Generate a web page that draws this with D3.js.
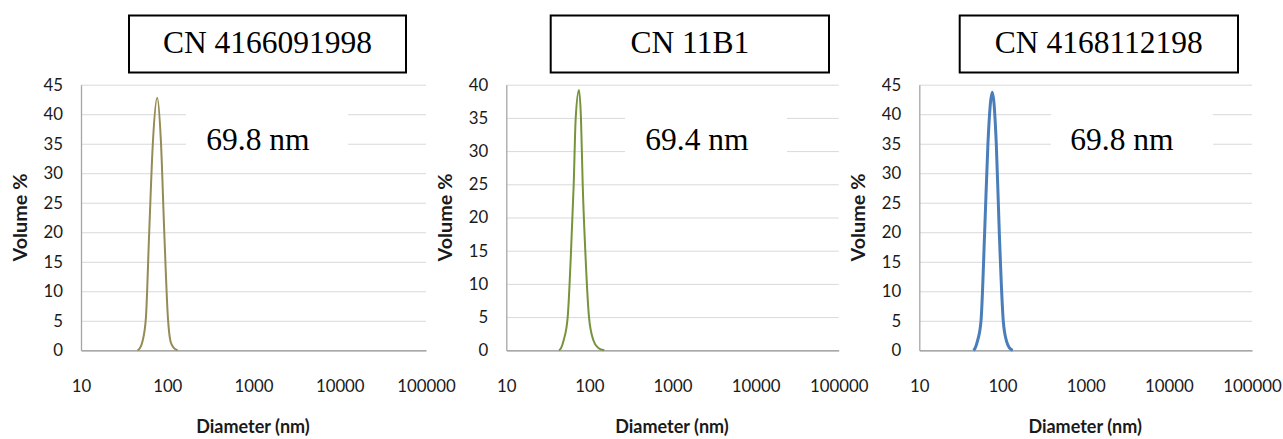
<!DOCTYPE html>
<html>
<head>
<meta charset="utf-8">
<script src="https://cdn.jsdelivr.net/npm/d3@7"></script>
<style>
  html, body { margin: 0; padding: 0; background: #fff; }
  svg { display: block; }
</style>
</head>
<body>
<svg id="chart" width="1283" height="439"></svg>
<script>
// ---------- data ----------
const titles = ["CN 4166091998", "CN 11B1", "CN 4168112198"];
const peakLabels = ["69.8 nm", "69.4 nm", "69.8 nm"];
const yMaxValues = [45, 40, 45];
const xTickValues = [10, 100, 1000, 10000, 100000];
const xLabel = "Diameter (nm)";
const yLabel = "Volume %";

// diameter (nm) and volume (%)
const diameters1 = [45.2, 47.9, 51.6, 56.5, 61.8, 68.2, 76.5, 84.5, 92.3, 101.9, 109.2, 119.0, 131.8];
const volumes1   = [0,    0.3,  1.5,  5.4,  20.1, 35.3, 42.8, 35.3, 20.1, 5.4,   1.5,   0.4,   0];
const diameters2 = [43.1, 45.5, 49.1, 54.8, 60.1, 64.7, 68.4, 74.9, 79.2, 83.1, 89.3, 98.9, 111.4, 126.9, 151.1];
const volumes2   = [0,    0.3,  1.55, 5.0,  14.9, 24.9, 34.9, 39.2, 34.9, 24.9, 14.9, 5.0,  1.55,  0.4,   0];
const diameters3 = [44.6, 46.7, 49.8, 55.2, 61.1, 66.9, 75.4, 84.2, 91.5, 102.2, 112.3, 121.4, 132.7];
const volumes3   = [0,    0.3,  1.46, 5.0,  20.1, 35.1, 43.7, 35.1, 20.1, 5.0,   1.46,  0.4,   0];

const seriesX = [diameters1, diameters2, diameters3];
const seriesY = [volumes1, volumes2, volumes3];

// ---------- layout / style ----------
const layout = [
  { left: 81,    right: 426,  box: [129, 406],   labelBox: [186, 348],   labelX: 258,  yTitleX: 19.5 },
  { left: 506.3, right: 838.7, box: [550.7, 829], labelBox: [625, 787],  labelX: 697,  yTitleX: 444.5 },
  { left: 919.3, right: 1252, box: [959.7, 1238], labelBox: [1051, 1213], labelX: 1122, yTitleX: 857.5 }
];
const lineColors = ["#958b55", "#77933c", "#4a7ebb"];
const lineWidths = [2, 2, 3];
const plotTop = 84.7, plotBottom = 350.3;

const svg = d3.select("#chart");

layout.forEach((L, i) => {
  const g = svg.append("g");
  const x = d3.scaleLog().domain([10, 100000]).range([L.left, L.right]);
  const y = d3.scaleLinear().domain([0, yMaxValues[i]]).range([plotBottom, plotTop]);
  const yTicks = d3.range(0, yMaxValues[i] + 0.001, 5);

  // gridlines
  g.append("g")
    .attr("transform", `translate(${L.left},0)`)
    .call(d3.axisLeft(y).tickValues(yTicks.filter(v => v > 0)).tickSize(-(L.right - L.left)).tickFormat(""))
    .call(s => s.select(".domain").remove())
    .call(s => s.selectAll("line").attr("stroke", "#d9d9d9").attr("stroke-width", 1));

  // white box behind peak label
  g.append("rect")
    .attr("x", L.labelBox[0]).attr("y", 100)
    .attr("width", L.labelBox[1] - L.labelBox[0]).attr("height", 62)
    .attr("fill", "#fff");

  // y axis
  g.append("g")
    .attr("transform", `translate(${L.left},0)`)
    .call(d3.axisLeft(y).tickValues(yTicks).tickSize(0).tickPadding(18))
    .call(s => s.select(".domain").attr("stroke", "#a6a6a6").attr("stroke-width", 1.3))
    .call(s => s.selectAll("text").attr("font-family", "Lato, 'Open Sans', sans-serif")
      .attr("font-size", 16.8).attr("fill", "#1a1a1a"));

  // x axis
  g.append("g")
    .attr("transform", `translate(0,${plotBottom})`)
    .call(d3.axisBottom(x).tickValues(xTickValues).tickSize(0).tickPadding(30).tickFormat(d3.format("d")))
    .call(s => s.select(".domain").attr("stroke", "#8c8c8c").attr("stroke-width", 1.3))
    .call(s => s.selectAll("text").attr("font-family", "Lato, 'Open Sans', sans-serif")
      .attr("font-size", 16.8).attr("fill", "#1a1a1a"));

  // line
  const pts = seriesX[i].map((d, k) => [d, seriesY[i][k]]);
  g.append("path")
    .datum(pts)
    .attr("fill", "none")
    .attr("stroke", lineColors[i])
    .attr("stroke-width", lineWidths[i])
    .attr("stroke-linejoin", "round")
    .attr("d", d3.line().x(p => x(p[0])).y(p => y(p[1])).curve(d3.curveMonotoneX));

  // axis titles
  g.append("text")
    .attr("x", (L.left + L.right) / 2 - 0.5).attr("y", 433)
    .attr("text-anchor", "middle")
    .attr("font-family", "Lato, 'Open Sans', sans-serif")
    .attr("font-weight", "bold").attr("font-size", 18).attr("fill", "#1a1a1a")
    .text(xLabel);
  g.append("text")
    .attr("transform", `translate(${L.yTitleX},217.5) rotate(-90)`)
    .attr("text-anchor", "middle").attr("dominant-baseline", "central")
    .attr("font-family", "Lato, 'Open Sans', sans-serif")
    .attr("font-weight", "bold").attr("font-size", 18).attr("fill", "#1a1a1a")
    .attr("textLength", 88).attr("lengthAdjust", "spacingAndGlyphs")
    .text(yLabel);

  // title box
  g.append("rect")
    .attr("x", L.box[0]).attr("y", 15.5)
    .attr("width", L.box[1] - L.box[0]).attr("height", 57)
    .attr("fill", "#fff").attr("stroke", "#000").attr("stroke-width", 2);
  g.append("text")
    .attr("x", (L.box[0] + L.box[1]) / 2).attr("y", 53)
    .attr("text-anchor", "middle")
    .attr("font-family", "'Liberation Serif', 'Times New Roman', serif")
    .attr("font-size", 31.5).attr("fill", "#000")
    .text(titles[i]);

  // peak label
  g.append("text")
    .attr("x", L.labelX).attr("y", 150)
    .attr("text-anchor", "middle")
    .attr("font-family", "'Liberation Serif', 'Times New Roman', serif")
    .attr("font-size", 31.5).attr("fill", "#000")
    .text(peakLabels[i]);
});
</script>
</body>
</html>
